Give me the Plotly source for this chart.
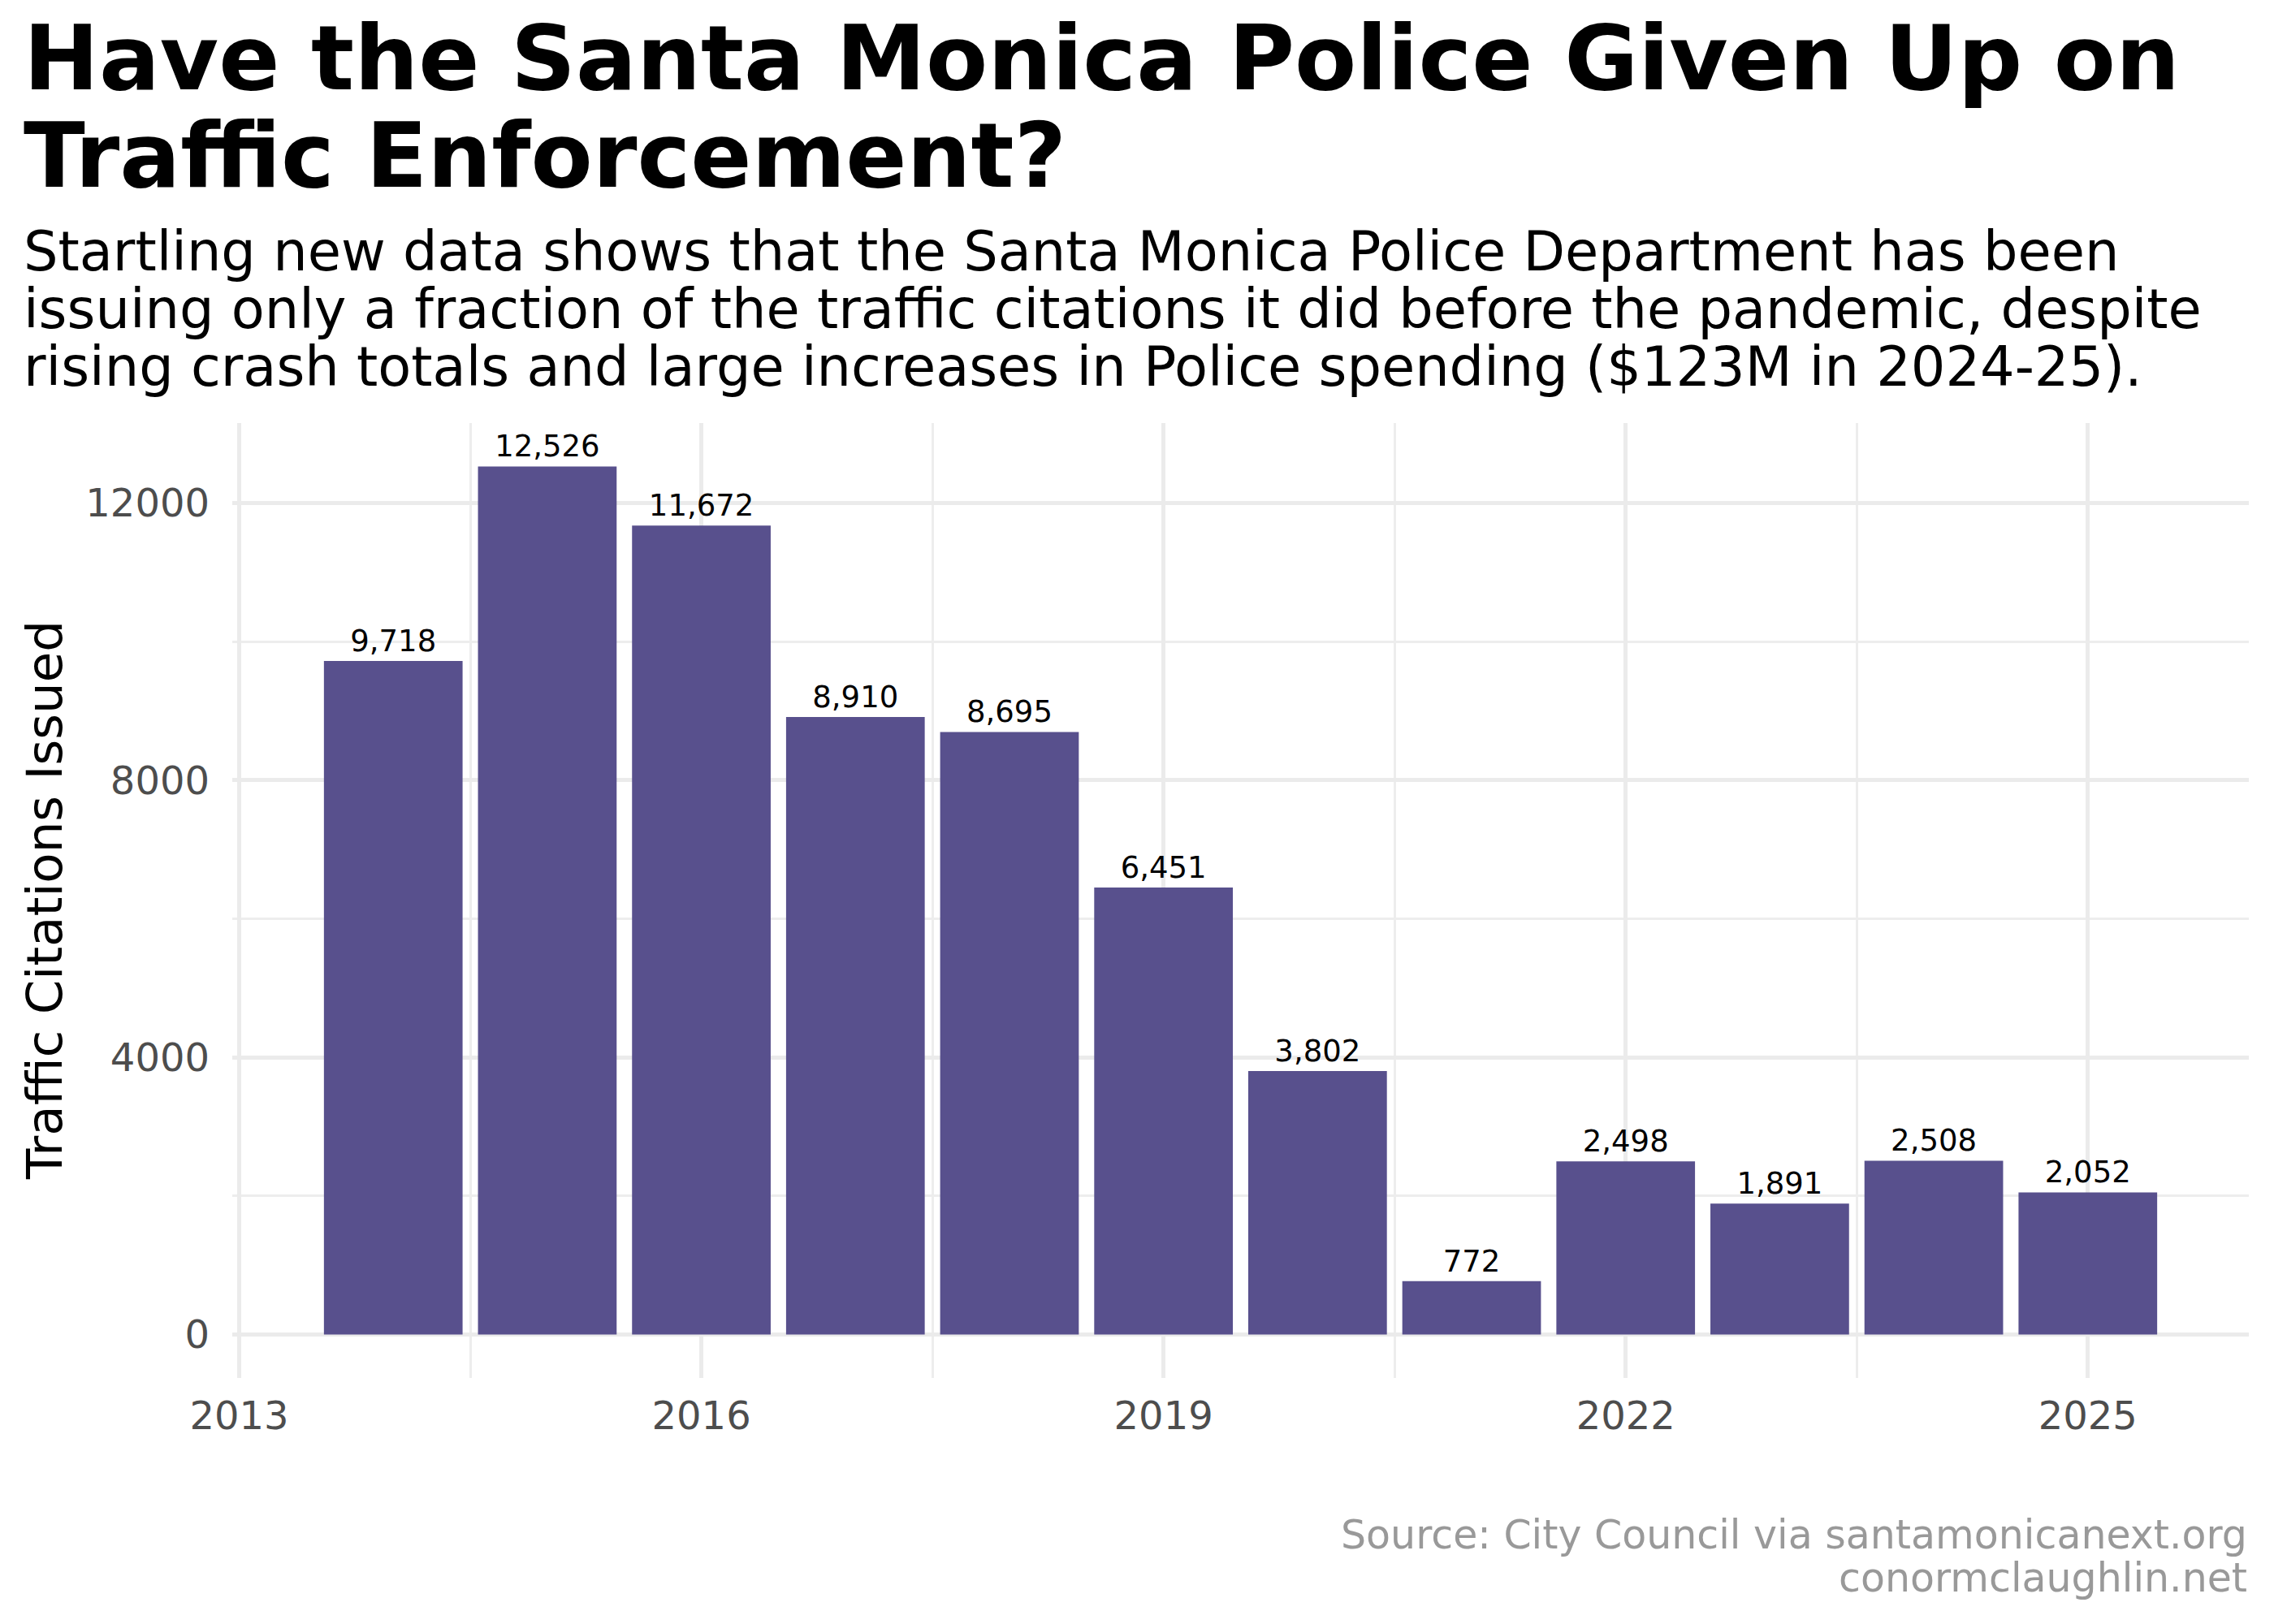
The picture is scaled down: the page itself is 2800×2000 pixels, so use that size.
import plotly.graph_objects as go

# data
years = [2014, 2015, 2016, 2017, 2018, 2019, 2020, 2021, 2022, 2023, 2024, 2025]
citations = [9718, 12526, 11672, 8910, 8695, 6451, 3802, 772, 2498, 1891, 2508, 2052]

x_ticks = [2013, 2016, 2019, 2022, 2025]
x_minor = [2014.5, 2017.5, 2020.5, 2023.5]
y_ticks = [0, 4000, 8000, 12000]
y_minor = [2000, 6000, 10000]

title_lines = ["Have the Santa Monica Police Given Up on", "Traffic Enforcement?"]
subtitle_lines = [
    "Startling new data shows that the Santa Monica Police Department has been",
    "issuing only a fraction of the traffic citations it did before the pandemic, despite",
    "rising crash totals and large increases in Police spending ($123M in 2024-25).",
]
caption_lines = ["Source: City Council via santamonicanext.org", "conormclaughlin.net"]

FONT = "DejaVu Sans"
OFF = 8  # page body margin
W, H = 2784, 1984
L, R, T, B = 278, 23, 513, 295
PW, PH = W - L - R, H - T - B


# page pixel -> paper coords
def px_x(px):
    return (px - OFF - L) / PW


def px_y(py):
    return (OFF + H - B - py) / PH


fig = go.Figure()

fig.add_trace(go.Bar(
    x=years,
    y=citations,
    width=0.9,
    marker=dict(color="#58508d", line=dict(width=0)),
    texttemplate="%{y:,}",
    textposition="outside",
    textfont=dict(family=FONT, size=37, color="black"),
    cliponaxis=False,
    hoverinfo="x+y",
))

annotations = []

# title, one annotation per line to keep the tight line spacing
for i, line in enumerate(title_lines):
    annotations.append(dict(
        text="<b>" + line + "</b>", x=px_x(27), y=px_y(5 + i * 120),
        xref="paper", yref="paper", xanchor="left", yanchor="top",
        showarrow=False, font=dict(family=FONT, size=111, color="black"),
    ))

for i, line in enumerate(subtitle_lines):
    annotations.append(dict(
        text=line, x=px_x(27), y=px_y(269 + i * 71),
        xref="paper", yref="paper", xanchor="left", yanchor="top",
        showarrow=False, font=dict(family=FONT, size=67, color="black"),
    ))

for i, line in enumerate(caption_lines):
    annotations.append(dict(
        text=line, x=1, y=px_y(1860 + i * 53),
        xref="paper", yref="paper", xanchor="right", yanchor="top",
        showarrow=False, font=dict(family=FONT, size=49, color="#999999"),
    ))

# y axis title
annotations.append(dict(
    text="Traffic Citations Issued", x=px_x(54), y=0.5,
    xref="paper", yref="paper", xanchor="center", yanchor="middle",
    textangle=-90, showarrow=False, font=dict(family=FONT, size=61, color="black"),
))

fig.update_layout(
    width=W,
    height=H,
    margin=dict(l=L, r=R, t=T, b=B),
    plot_bgcolor="white",
    paper_bgcolor="white",
    showlegend=False,
    annotations=annotations,
    font=dict(family=FONT),
)

fig.update_xaxes(
    range=[2012.955, 2026.045],
    tickvals=x_ticks,
    tickfont=dict(family=FONT, size=48, color="#4d4d4d"),
    ticklabelstandoff=14,
    showgrid=True, gridcolor="#ebebeb", gridwidth=5,
    minor=dict(tickvals=x_minor, showgrid=True, gridcolor="#ededed", gridwidth=2.5),
    zeroline=False, showline=False, ticks="",
)

fig.update_yaxes(
    range=[-626.3, 13152.3],
    tickvals=y_ticks,
    tickformat="d",
    tickfont=dict(family=FONT, size=48, color="#4d4d4d"),
    ticklabelstandoff=27,
    showgrid=True, gridcolor="#ebebeb", gridwidth=5,
    minor=dict(tickvals=y_minor, showgrid=True, gridcolor="#ededed", gridwidth=2.5),
    zeroline=False, showline=False, ticks="",
)

fig.write_html("out.html")
